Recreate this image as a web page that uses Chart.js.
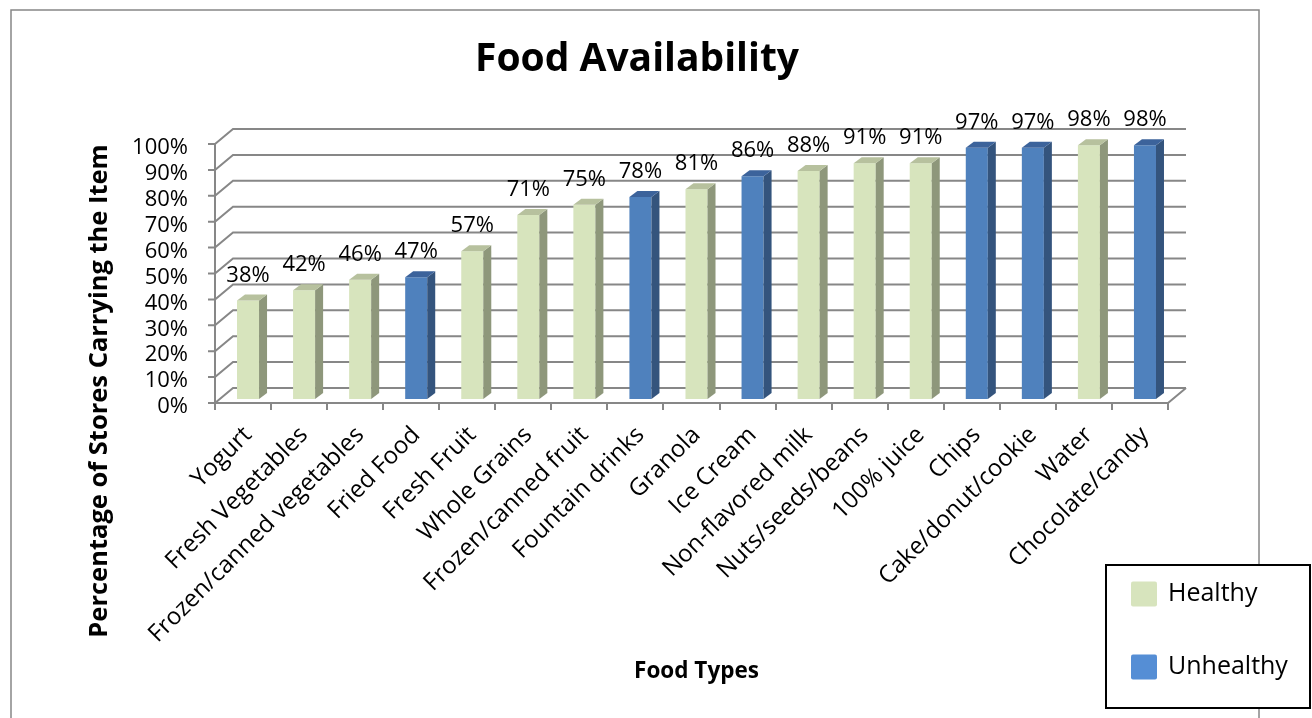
<!DOCTYPE html>
<html>
<head>
<meta charset="utf-8">
<title>Food Availability</title>
<script src="https://cdn.jsdelivr.net/npm/chart.js@4.4.1/dist/chart.umd.min.js"></script>
<style>
  html, body { margin: 0; padding: 0; background: #fff; }
  #wrap { position: relative; width: 1312px; height: 718px; }
</style>
</head>
<body>
<div id="wrap"><canvas id="chart" width="1312" height="718"></canvas></div>
<script>
/* global Chart */
// Share of stores carrying each food type, split healthy / unhealthy.
const categories = [
  'Yogurt', 'Fresh Vegetables', 'Frozen/canned vegetables', 'Fried Food',
  'Fresh Fruit', 'Whole Grains', 'Frozen/canned fruit', 'Fountain drinks',
  'Granola', 'Ice Cream', 'Non-flavored milk', 'Nuts/seeds/beans',
  '100% juice', 'Chips', 'Cake/donut/cookie', 'Water', 'Chocolate/candy',
];
const storeShare = [38, 42, 46, 47, 57, 71, 75, 78, 81, 86, 88, 91, 91, 97, 97, 98, 98];
const foodGroup = [
  'Healthy', 'Healthy', 'Healthy', 'Unhealthy', 'Healthy', 'Healthy', 'Healthy',
  'Unhealthy', 'Healthy', 'Unhealthy', 'Healthy', 'Healthy', 'Healthy',
  'Unhealthy', 'Unhealthy', 'Healthy', 'Unhealthy',
];
const groups = ['Healthy', 'Unhealthy'];
const yMax = 100;
const yStep = 10;

// Face colours for the fake-3D columns (front / side / top / legend key).
const FACES = {
  Healthy:   { front: '#D7E4BD', side: '#8E977B', top: '#B7C19E', key: '#D7E4BD' },
  Unhealthy: { front: '#4F81BD', side: '#34547D', top: '#3C639B', key: '#558ED5' },
};

// Offsets (px) of the floor front edge, back wall and column depth,
// all relative to the plane the columns' front faces sit in.
const FRONT = { dx: -5, dy: 4 };
const BACK = { dx: 13, dy: -11 };
const DEPTH = { dx: 8, dy: -6 };
const GRID = '#878787';
const FONT = "'Open Sans', sans-serif";

const pct = (v) => v + '%';

// Walls + floor behind the columns, drawn off the real scales.
const walls3d = {
  id: 'walls3d',
  beforeDraw(chart) {
    const { ctx, width, height } = chart;
    ctx.save();
    ctx.fillStyle = '#fff';
    ctx.fillRect(0, 0, width, height);
    ctx.strokeStyle = GRID;
    ctx.lineWidth = 1.5;
    ctx.strokeRect(11, 10, 1248, 800);
    ctx.restore();
  },
  beforeDatasetsDraw(chart) {
    const { ctx, chartArea: { left, right }, scales: { x, y } } = chart;
    ctx.save();
    ctx.strokeStyle = GRID;
    ctx.lineWidth = 2;
    ctx.lineJoin = 'miter';
    y.ticks.forEach((t) => {
      const py = y.getPixelForValue(t.value);
      ctx.beginPath();
      ctx.moveTo(left + FRONT.dx - 7, py + FRONT.dy);
      ctx.lineTo(left + FRONT.dx, py + FRONT.dy);
      ctx.lineTo(left + BACK.dx, py + BACK.dy);
      ctx.lineTo(right + BACK.dx, py + BACK.dy);
      ctx.stroke();
    });
    const y0 = y.getPixelForValue(0);
    const y1 = y.getPixelForValue(yMax);
    // front value axis
    ctx.beginPath();
    ctx.moveTo(left + FRONT.dx, y1 + FRONT.dy);
    ctx.lineTo(left + FRONT.dx, y0 + FRONT.dy);
    ctx.stroke();
    // floor: front edge, category ticks, right edge
    const fy = y0 + FRONT.dy;
    ctx.beginPath();
    ctx.moveTo(left + FRONT.dx, fy);
    ctx.lineTo(right + FRONT.dx, fy);
    ctx.lineTo(right + BACK.dx, y0 + BACK.dy);
    ctx.stroke();
    const step = (right - left) / categories.length;
    ctx.beginPath();
    for (let i = 0; i <= categories.length; i++) {
      const px = Math.round(x.getPixelForValue(0) - step / 2 + i * step + FRONT.dx);
      ctx.moveTo(px, fy);
      ctx.lineTo(px, fy + 7);
    }
    ctx.stroke();
    ctx.restore();
  },
  afterDatasetsDraw(chart) {
    const { ctx } = chart;
    ctx.save();
    chart.data.datasets.forEach((ds, di) => {
      const face = FACES[ds.label];
      chart.getDatasetMeta(di).data.forEach((bar, i) => {
        const v = ds.data[i];
        if (v == null) return;
        const { x, y, base, width } = bar.getProps(['x', 'y', 'base', 'width'], true);
        const x0 = x - width / 2;
        const x1 = x + width / 2;
        ctx.fillStyle = face.side;
        ctx.beginPath();
        ctx.moveTo(x1, y);
        ctx.lineTo(x1 + DEPTH.dx, y + DEPTH.dy);
        ctx.lineTo(x1 + DEPTH.dx, base + DEPTH.dy);
        ctx.lineTo(x1, base);
        ctx.closePath();
        ctx.fill();
        ctx.fillStyle = face.top;
        ctx.beginPath();
        ctx.moveTo(x0, y);
        ctx.lineTo(x0 + DEPTH.dx, y + DEPTH.dy);
        ctx.lineTo(x1 + DEPTH.dx, y + DEPTH.dy);
        ctx.lineTo(x1, y);
        ctx.closePath();
        ctx.fill();
        // value label
        ctx.fillStyle = '#000';
        ctx.font = '22px ' + FONT;
        ctx.textAlign = 'center';
        ctx.textBaseline = 'alphabetic';
        ctx.fillText(pct(v), x, y - 19);
      });
    });
    ctx.restore();
  },
  afterDraw(chart) {
    const { ctx } = chart;
    ctx.save();
    ctx.fillStyle = '#000';
    // chart title
    ctx.font = 'bold 39px ' + FONT;
    ctx.textAlign = 'center';
    ctx.textBaseline = 'alphabetic';
    ctx.fillText('Food Availability', 637, 71);
    // value axis title
    ctx.translate(100, 391);
    ctx.rotate(-Math.PI / 2);
    ctx.font = 'bold 25.5px ' + FONT;
    ctx.textBaseline = 'middle';
    ctx.fillText('Percentage of Stores Carrying the Item', 0, 0);
    ctx.setTransform(1, 0, 0, 1, 0, 0);
    // legend box
    ctx.fillStyle = '#fff';
    ctx.fillRect(1106, 565, 204, 143);
    ctx.strokeStyle = '#000';
    ctx.lineWidth = 2;
    ctx.strokeRect(1106, 565, 204, 143);
    ctx.font = '25px ' + FONT;
    ctx.textAlign = 'left';
    ctx.textBaseline = 'middle';
    groups.forEach((g, i) => {
      const cy = 594 + i * 73;
      ctx.fillStyle = FACES[g].key;
      ctx.beginPath();
      ctx.roundRect(1131, cy - 12.5, 26, 25, 2);
      ctx.fill();
      ctx.fillStyle = '#000';
      ctx.fillText(g, 1168, cy);
    });
    ctx.restore();
  },
};

const datasets = groups.map((g) => ({
  label: g,
  data: storeShare.map((v, i) => (foodGroup[i] === g ? v : null)),
  backgroundColor: FACES[g].front,
  borderWidth: 0,
  grouped: false,
  barPercentage: 0.393,
  categoryPercentage: 1,
}));

Chart.defaults.font.family = FONT;
Chart.defaults.color = '#000';

new Chart(document.getElementById('chart'), {
  type: 'bar',
  data: { labels: categories, datasets },
  options: {
    responsive: false,
    animation: false,
    layout: { padding: { top: 140, right: 139, bottom: 0, left: 0 } },
    plugins: {
      legend: { display: false },
      title: { display: false },
      tooltip: { enabled: false },
    },
    scales: {
      x: {
        grid: { display: false, drawTicks: false },
        border: { display: false },
        ticks: {
          autoSkip: false, minRotation: 45, maxRotation: 45, padding: 22,
          font: { size: 24 },
        },
        title: {
          display: true, text: 'Food Types',
          font: { size: 22.5, weight: 'bold', lineHeight: 1 },
          padding: { top: 0, bottom: 35 },
        },
        afterFit(scale) { scale.height = 319; },
      },
      y: {
        min: 0, max: yMax,
        grid: { display: false, drawTicks: false },
        border: { display: false },
        ticks: {
          autoSkip: false, stepSize: yStep, padding: 32, labelOffset: 8,
          font: { size: 22 }, callback: pct,
        },
        afterFit(scale) { scale.width = 220; },
      },
    },
  },
  plugins: [walls3d],
});
</script>
</body>
</html>
